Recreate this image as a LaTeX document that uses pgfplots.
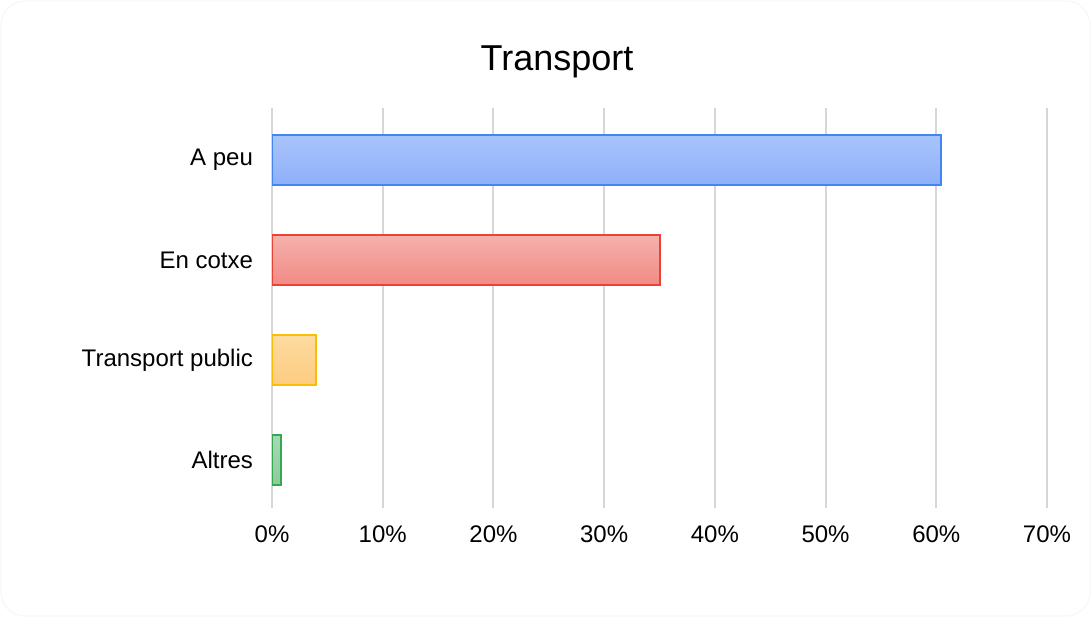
\documentclass[border=0pt]{standalone}
\usepackage{pgfplots}
\pgfplotsset{compat=1.18}
\usepackage{fontspec}
\setmainfont{Liberation Sans}

\definecolor{bluebd}{HTML}{4285F4}
\definecolor{bluetop}{HTML}{A9C4FC}
\definecolor{bluebot}{HTML}{8EB0F9}
\definecolor{redbd}{HTML}{EA4335}
\definecolor{redtop}{HTML}{F5B1AC}
\definecolor{redbot}{HTML}{F28A84}
\definecolor{yelbd}{HTML}{FBBC04}
\definecolor{yeltop}{HTML}{FDDBA0}
\definecolor{yelbot}{HTML}{FDCC80}
\definecolor{grnbd}{HTML}{34A853}
\definecolor{grntop}{HTML}{A7D9B3}
\definecolor{grnbot}{HTML}{8DCB9B}
\definecolor{gridc}{HTML}{D6D6D6}

\begin{document}
\begin{tikzpicture}
\useasboundingbox (0,0) rectangle (545.5pt,308.5pt);
\draw[gray!6, line width=0.6pt, rounded corners=12pt] (0.5pt,0.5pt) rectangle (545pt,308pt);
\node[font=\fontsize{18}{20}\selectfont] at (278.5pt,277.5pt) {Transport};
\begin{axis}[
    at={(136pt,54.5pt)}, anchor=south west,
    scale only axis,
    width=387.5pt, height=200pt,
    xbar,
    bar width=25pt,
    bar shift=0pt,
    xmin=0, xmax=70,
    ymin=-0.48, ymax=3.52,
    xtick={0,10,...,70},
    ytick={0,1,2,3},
    yticklabels={Altres,Transport public,En cotxe,A peu},
    xticklabel={\pgfmathprintnumber{\tick}\%},
    /pgf/number format/assume math mode=true,
    tick label style={font=\fontsize{12}{14}\selectfont, text=black},
    xticklabel style={yshift=-5.5pt},
    yticklabel style={xshift=-6pt},
    major tick length=0pt,
    axis line style={draw=none},
    xmajorgrids,
    grid style={gridc, line width=1pt},
]
\addplot[draw=bluebd, line width=1pt, top color=bluetop, bottom color=bluebot] coordinates {(60.4,3)};
\addplot[draw=redbd, line width=1pt, top color=redtop, bottom color=redbot] coordinates {(35.0,2)};
\addplot[draw=yelbd, line width=1pt, top color=yeltop, bottom color=yelbot] coordinates {(4.0,1)};
\addplot[draw=grnbd, line width=1pt, top color=grntop, bottom color=grnbot] coordinates {(0.8,0)};
\end{axis}
\end{tikzpicture}
\end{document}
